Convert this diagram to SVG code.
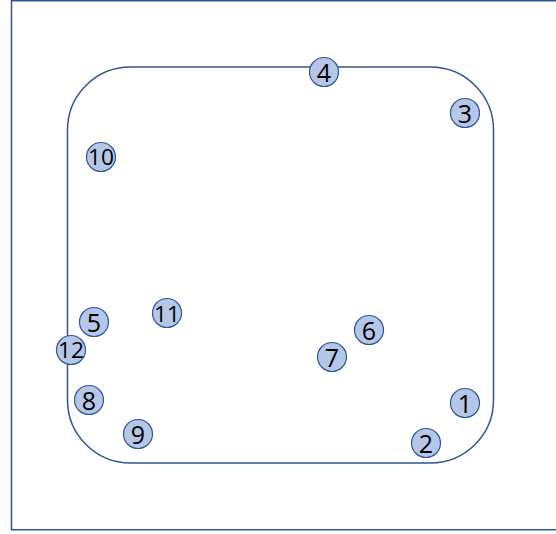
<svg xmlns="http://www.w3.org/2000/svg" width="556" height="534" viewBox="0 0 556 534">
<style>
.frame{fill:#fff;stroke:#2F5597;stroke-width:1.5}
.region{fill:none;stroke:#2F5597;stroke-width:1.5}
.n circle{fill:#B4C7E7;stroke:#2F5597;stroke-width:1.2}
.n text{font-family:"Open Sans","Noto Sans","Liberation Sans",sans-serif;font-size:25px;fill:#000;text-anchor:middle;dominant-baseline:central}
.n text.d{font-size:21px}
</style>
<rect width="556" height="534" fill="#fff"/>
<rect class="frame" x="11.5" y="0.75" width="560" height="529"/>
<rect class="region" x="67.5" y="67" width="426" height="396" rx="63" ry="63"/>
<g id="connectors"/>
<g id="node1" class="n"><circle cx="465" cy="403" r="14.5"/><text x="465" y="403">1</text></g>
<g id="node2" class="n"><circle cx="426" cy="443" r="14.5"/><text x="426" y="443">2</text></g>
<g id="node3" class="n"><circle cx="465" cy="113" r="14.5"/><text x="465" y="113">3</text></g>
<g id="node4" class="n"><circle cx="324" cy="72" r="14.5"/><text x="324" y="72">4</text></g>
<g id="node5" class="n"><circle cx="94" cy="322" r="14.5"/><text x="94" y="322">5</text></g>
<g id="node6" class="n"><circle cx="369" cy="330" r="14.5"/><text x="369" y="330">6</text></g>
<g id="node7" class="n"><circle cx="332" cy="357" r="14.5"/><text x="332" y="357">7</text></g>
<g id="node8" class="n"><circle cx="89" cy="400" r="14.5"/><text x="89" y="400">8</text></g>
<g id="node9" class="n"><circle cx="138" cy="434" r="14.5"/><text x="138" y="434">9</text></g>
<g id="node10" class="n"><circle cx="101" cy="157" r="14.5"/><text class="d" x="101" y="157" textLength="26" lengthAdjust="spacingAndGlyphs">10</text></g>
<g id="node11" class="n"><circle cx="167" cy="313" r="14.5"/><text class="d" x="167" y="314" textLength="26" lengthAdjust="spacingAndGlyphs">11</text></g>
<g id="node12" class="n"><circle cx="71" cy="350" r="14.5"/><text class="d" x="71" y="350" textLength="26" lengthAdjust="spacingAndGlyphs">12</text></g>
</svg>
